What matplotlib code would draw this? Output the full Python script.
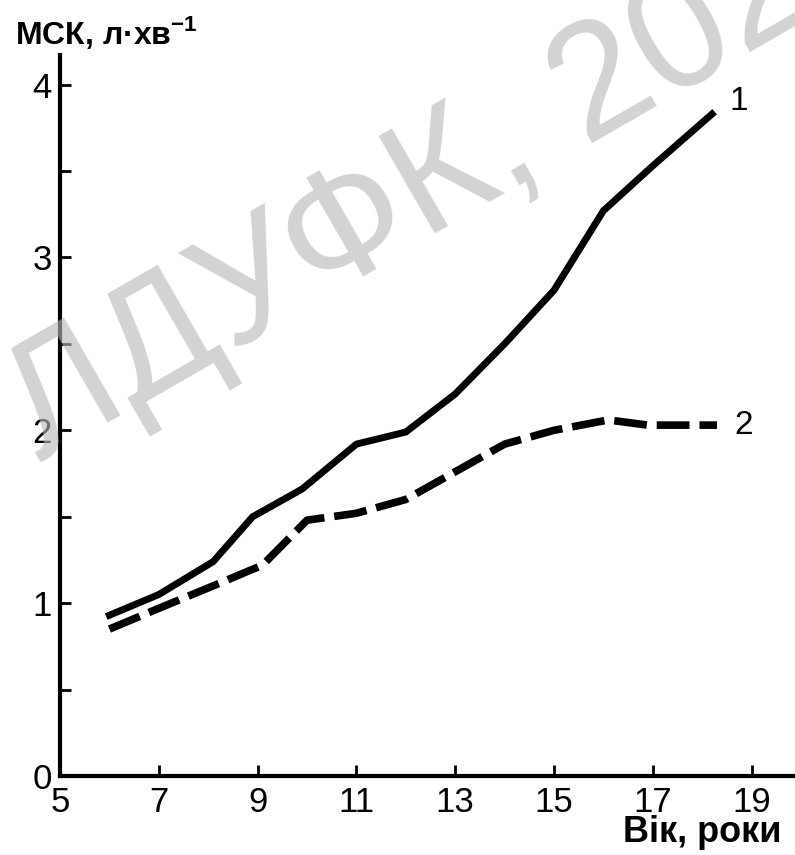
import matplotlib
matplotlib.use('Agg')
import matplotlib.pyplot as plt

plt.rcParams['font.family'] = ['Liberation Sans', 'DejaVu Sans']

# curve 1 (solid) and curve 2 (dashed)
age_1 = [6, 7, 8.1, 8.9, 9.9, 11, 12, 13, 14, 15, 16, 17, 18.2]
msk_1 = [0.93, 1.05, 1.24, 1.50, 1.66, 1.92, 1.99, 2.21, 2.50, 2.81, 3.27, 3.53, 3.83]

age_2 = [6, 7, 8.1, 9.1, 10, 11, 12, 13, 14, 15, 16.1, 16.9, 18.3]
msk_2 = [0.85, 0.97, 1.10, 1.22, 1.48, 1.52, 1.60, 1.76, 1.92, 2.00, 2.06, 2.03, 2.03]

x_ticks = [5, 7, 9, 11, 13, 15, 17, 19]
y_ticks = [0, 1, 2, 3, 4]
y_minor = [0.5, 1.5, 2.5, 3.5]

fig = plt.figure(figsize=(7.95, 8.55), dpi=100)
ax = fig.add_axes([0.0755, 0.0924, 0.9245, 0.843])

ax.plot(age_1, msk_1, color='black', lw=5, solid_joinstyle='miter', zorder=3)
ax.plot(age_2, msk_2, color='black', lw=5.5, linestyle=(0, (4.3, 1.3)),
        dash_capstyle='butt', zorder=3)

ax.text(18.55, 3.9, '1', fontsize=24, va='center', ha='left')
ax.text(18.65, 2.03, '2', fontsize=24, va='center', ha='left')

ax.set_xlim(5, 19.88)
ax.set_ylim(0, 4.17)
ax.set_xticks(x_ticks)
ax.set_yticks(y_ticks)
ax.set_yticks(y_minor, minor=True)
ax.tick_params(axis='both', which='both', direction='in', length=8, width=2,
               labelsize=25, pad=6)
ax.tick_params(axis='x', pad=7)
for s in ['top', 'right']:
    ax.spines[s].set_visible(False)
for s in ['left', 'bottom']:
    ax.spines[s].set_linewidth(3)

fig.text(0.019, 0.962, r'МСК, л·хв$^{\mathregular{-1}}$', fontsize=23,
         fontweight='bold', ha='left', va='center')
fig.text(0.983, 0.006, 'Вік, роки', fontsize=26, fontweight='bold',
         ha='right', va='bottom')

# watermark, semi-transparent over the axes
fig.text(40 / 795, 1 - 462 / 855, 'ЛДУФК, 2020', fontsize=118,
         color=(0.72, 0.72, 0.72), alpha=0.62, rotation=30,
         rotation_mode='anchor', ha='left', va='baseline', zorder=10)

fig.savefig('out.png', dpi=100)
